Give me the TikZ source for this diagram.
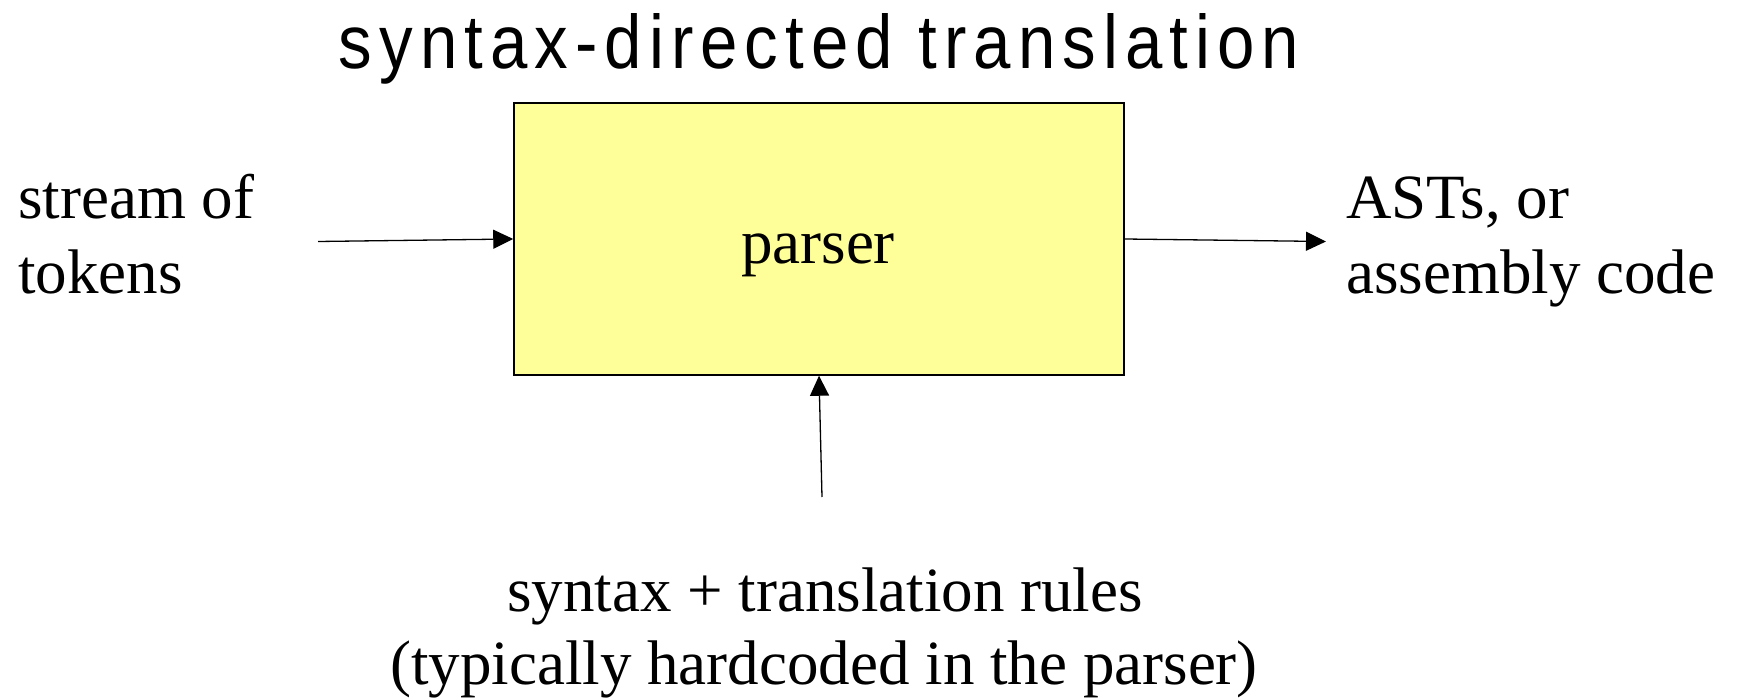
\documentclass[tikz,border=0pt]{standalone}
\usepackage{fontspec}
\setmainfont{Liberation Serif}
\newfontfamily\titlefont[FakeStretch=0.86, LetterSpace=9]{Liberation Sans}
\usetikzlibrary{arrows.meta}
\definecolor{boxyellow}{RGB}{255,255,153}
\tikzset{
  bodytext/.style={inner sep=0pt, font=\fontsize{63}{75}\selectfont},
  flowline/.style={line width=1.3pt, -{Triangle[length=20pt,width=19pt]}},
  stagebox/.style={draw=black, line width=1.5pt, fill=boxyellow,
    minimum width=610pt, minimum height=272pt, inner sep=0pt}
}
\begin{document}
\begin{tikzpicture}[x=1pt, y=-1pt]
  \useasboundingbox (0,0) rectangle (1741,700);

  % heading
  \node[inner sep=0pt, anchor=base] (title) at (819,69)
    {\resizebox{960pt}{55pt}{\titlefont\fontsize{74}{90}\selectfont syntax-directed translation}};

  % the parser stage
  \node[stagebox] (box) at (819,239) {};
  \node[bodytext, anchor=base] (parserlbl) at (818,264) {parser};

  % input
  \node[bodytext, anchor=base west] (in1) at (18,219) {stream of};
  \node[bodytext, anchor=base west] (in2) at (18,294) {tokens};
  \coordinate (instart) at (318,241.5);

  % output
  \node[bodytext, anchor=base west] (out1) at (1346,219) {ASTs, or};
  \node[bodytext, anchor=base west] (out2) at (1346,294) {assembly code};
  \coordinate (outend) at (1326,241.5);

  % rules
  \node[bodytext, anchor=base] (rules1) at (825,611) {syntax + translation rules};
  \node[bodytext, anchor=base] (rules2) at (824,684) {(typically hardcoded in the parser)};
  \coordinate (rulesstart) at (822,497);

  % connectors
  \draw[flowline] (instart) -- (box.west);
  \draw[flowline] (box.east) -- (outend);
  \draw[flowline] (rulesstart) -- (box.south);
\end{tikzpicture}
\end{document}
